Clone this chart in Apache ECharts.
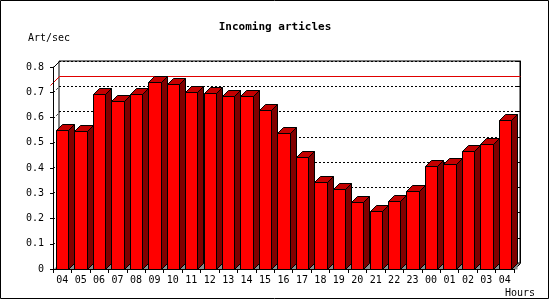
<!DOCTYPE html>
<html>
<head>
<meta charset="utf-8">
<script src="https://cdn.jsdelivr.net/npm/echarts@6/dist/echarts.min.js"></script>
<style>html,body{margin:0;padding:0;background:#fff}#c{width:550px;height:300px}</style>
</head>
<body>
<div id="c"></div>
<script>
const hours = ['04','05','06','07','08','09','10','11','12','13','14','15','16','17','18','19','20','21','22','23','00','01','02','03','04'];
const artPerSec = [0.550,0.546,0.692,0.665,0.692,0.740,0.732,0.700,0.696,0.686,0.686,0.629,0.540,0.443,0.345,0.318,0.267,0.231,0.271,0.310,0.409,0.417,0.468,0.496,0.591];
const yTicks = [0,0.1,0.2,0.3,0.4,0.5,0.6,0.7,0.8];
const titleText = 'Incoming articles';
const yName = 'Art/sec';
const xName = 'Hours';

const FONT = 'DejaVu Sans Mono';
const D = 6;
const maxVal = Math.max.apply(null, artPerSec);
const px = v => Math.round(v) + 0.5;

const chart = echarts.init(document.getElementById('c'), null, {renderer: 'canvas'});

function renderBar(params, api) {
  const cat = api.value(0), v = api.value(1);
  const top = api.coord([cat, v]);
  const bot = api.coord([cat, 0]);
  const w = api.size([1, 0])[0];
  const fw = w * 0.67;
  const x0 = px(top[0] - fw / 2), x1 = px(top[0] + fw / 2);
  const y0 = px(top[1]), yb = px(bot[1]);
  return {
    type: 'group',
    children: [
      {type: 'polygon', shape: {points: [[x1, yb], [x1 + D, yb - D], [x1 + D, yb]]}, style: {fill: '#8c8c8c', stroke: null}},
      {type: 'polygon', shape: {points: [[x1, y0], [x1 + D, y0 - D], [x1 + D, yb - D], [x1, yb]]}, style: {fill: '#800000', stroke: '#000', lineWidth: 1}},
      {type: 'polygon', shape: {points: [[x0, y0], [x0 + D, y0 - D], [x1 + D, y0 - D], [x1, y0]]}, style: {fill: '#c40000', stroke: '#000', lineWidth: 1}},
      {type: 'rect', shape: {x: x0, y: y0, width: x1 - x0, height: yb - y0}, style: {fill: '#ff0000', stroke: '#000', lineWidth: 1}}
    ]
  };
}

function renderFrame(params, api) {
  const cs = params.coordSys;
  const L = px(cs.x), R = px(cs.x + cs.width);
  const T = px(cs.y), B = px(cs.y + cs.height);
  const children = [];
  children.push({type: 'polygon', shape: {points: [[L, B], [R, B], [R + D, B - D], [L + D, B - D]]}, style: {fill: '#8c8c8c'}});
  yTicks.forEach(t => {
    if (t <= 0 || t >= 0.8) return;
    const y = px(api.coord([0, t])[1]);
    children.push({type: 'line', shape: {x1: L, y1: y, x2: L + D, y2: y - D}, style: {stroke: '#000', lineWidth: 1, lineDash: [2, 2]}});
  });
  children.push({type: 'line', shape: {x1: L, y1: T, x2: L + D, y2: T - D}, style: {stroke: '#000', lineWidth: 1}});
  children.push({type: 'line', shape: {x1: R, y1: B, x2: R + D, y2: B - D}, style: {stroke: '#000', lineWidth: 1}});
  const ym = px(api.coord([0, api.value(1)])[1]);
  children.push({type: 'polyline', shape: {points: [[L - 3, ym + 3], [L + D, ym - D], [R + D, ym - D]]}, style: {stroke: '#e00000', lineWidth: 1, fill: null}});
  return {type: 'group', children: children};
}

const option = {
  backgroundColor: '#fff',
  animation: false,
  title: [
    {text: titleText, left: 'center', top: 22, padding: 0, textStyle: {fontFamily: FONT, fontSize: 11, fontWeight: 'bold', color: '#000'}},
    {text: yName, left: 28, top: 33, padding: 0, textStyle: {fontFamily: FONT, fontSize: 10, fontWeight: 'normal', color: '#000'}},
    {text: xName, left: 505, top: 288, padding: 0, textStyle: {fontFamily: FONT, fontSize: 10, fontWeight: 'normal', color: '#000'}}
  ],
  grid: [
    {left: 53, right: 36, top: 67, bottom: 31, show: false},
    {left: 59, right: 30, top: 61, bottom: 37, show: true, borderColor: '#000', borderWidth: 1, backgroundColor: '#fff'}
  ],
  xAxis: [
    {type: 'category', gridIndex: 0, data: hours, boundaryGap: true, z: 6,
     axisLine: {show: true, lineStyle: {color: '#000', width: 1}},
     axisTick: {show: true, length: 4, interval: 0, lineStyle: {color: '#000'}},
     axisLabel: {color: '#000', fontFamily: FONT, fontSize: 10, margin: 6, interval: 0}},
    {type: 'category', gridIndex: 1, data: hours, show: false}
  ],
  yAxis: [
    {type: 'value', gridIndex: 0, min: 0, max: 0.8, interval: 0.1, z: 6,
     axisLine: {show: true, lineStyle: {color: '#000', width: 1}},
     axisTick: {show: true, length: 3, lineStyle: {color: '#000'}},
     axisLabel: {color: '#000', fontFamily: FONT, fontSize: 10, margin: 9, formatter: v => v === 0 ? '0' : v.toFixed(1)},
     splitLine: {show: false}},
    {type: 'value', gridIndex: 1, min: 0, max: 0.8, interval: 0.1, position: 'right',
     axisLine: {show: true, lineStyle: {color: '#000', width: 1}},
     axisTick: {show: true, inside: true, length: 3, lineStyle: {color: '#000'}},
     axisLabel: {show: false},
     splitLine: {show: true, lineStyle: {color: '#000', width: 1, type: [2, 2]}}}
  ],
  series: [
    {type: 'custom', xAxisIndex: 0, yAxisIndex: 0, z: 2, silent: true, clip: false,
     renderItem: renderFrame, data: [[0, maxVal]]},
    {type: 'custom', xAxisIndex: 0, yAxisIndex: 0, z: 3, silent: true, clip: false,
     renderItem: renderBar, encode: {x: 0, y: 1},
     data: artPerSec.map((v, i) => [i, v])}
  ],
  graphic: [
    {type: 'rect', z: 100, silent: true, shape: {x: 0.5, y: 0.5, width: 548, height: 298}, style: {fill: null, stroke: '#000', lineWidth: 1}}
  ]
};
chart.setOption(option);
</script>
</body>
</html>
